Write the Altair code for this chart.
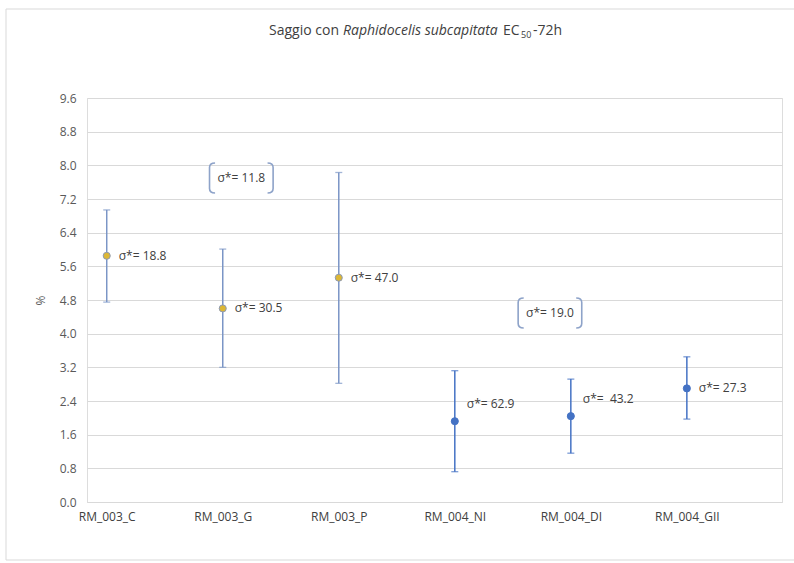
import altair as alt
import pandas as pd

# ---- data ----
categories = ["RM_003_C", "RM_003_G", "RM_003_P", "RM_004_NI", "RM_004_DI", "RM_004_GII"]
groups = ["RM_003", "RM_003", "RM_003", "RM_004", "RM_004", "RM_004"]
means = [5.85, 4.60, 5.33, 1.92, 2.04, 2.70]
lows = [4.75, 3.20, 2.82, 0.72, 1.16, 1.97]
highs = [6.94, 6.01, 7.83, 3.12, 2.92, 3.45]
sigma_labels = ["σ*= 18.8", "σ*= 30.5", "σ*= 47.0", "σ*= 62.9", "σ*=\u00a0 43.2", "σ*= 27.3"]

# group-level annotations (anchor in category-index / value units)
group_sigma = ["σ*= 11.8", "σ*= 19.0"]
group_sigma_x = [1.16, 3.82]
group_sigma_y = [7.70, 4.49]

y_ticks = [round(0.8 * i, 1) for i in range(13)]

df = pd.DataFrame({
    "idx": list(range(len(categories))),
    "cat": categories,
    "group": groups,
    "mean": means,
    "low": lows,
    "high": highs,
    "label": sigma_labels,
})
ann = pd.DataFrame({"text": group_sigma, "x": group_sigma_x, "y": group_sigma_y})

FONT = "Open Sans"
GRID = "#d9d9d9"
TXT = "#404040"

label_array = "[" + ",".join("'" + c + "'" for c in categories) + "]"

xscale = alt.Scale(domain=[-0.17, 5.82], nice=False, zero=False)
yscale = alt.Scale(domain=[0, 9.6], nice=False)

x_axis = alt.Axis(values=list(range(len(categories))),
                  labelExpr=label_array + "[datum.value]",
                  grid=False, ticks=False, domain=True, domainColor=GRID,
                  labelPadding=9, labelFontSize=12, labelColor=TXT,
                  labelFont=FONT, labelOverlap=False)
y_axis = alt.Axis(values=y_ticks, format=".1f", grid=True, gridColor=GRID,
                  domain=False, ticks=False, labelPadding=11, labelFontSize=12,
                  labelColor="#595959", labelFont=FONT, title="%",
                  titleFontWeight="normal", titleFontSize=12, titleColor="#595959",
                  titleFont=FONT, titlePadding=12, labelOverlap=False)


def X(field):
    return alt.X(field, scale=xscale, axis=x_axis, title=None)


def Y(field):
    return alt.Y(field, scale=yscale, axis=y_axis, title="%")


bar_colors = alt.Scale(domain=["RM_003", "RM_004"], range=["#7b95c6", "#4472c4"])
fill_colors = alt.Scale(domain=["RM_003", "RM_004"], range=["#dcb735", "#4472c4"])
stroke_colors = alt.Scale(domain=["RM_003", "RM_004"], range=["#8d9ab5", "#4472c4"])

base = alt.Chart(df)

rules = base.mark_rule(strokeWidth=1.5).encode(
    x=X("idx:Q"), y=Y("low:Q"), y2="high:Q",
    color=alt.Color("group:N", scale=bar_colors, legend=None),
)
caps_low = base.mark_tick(orient="horizontal", size=7, thickness=1.3).encode(
    x=X("idx:Q"), y=Y("low:Q"),
    color=alt.Color("group:N", scale=bar_colors, legend=None),
)
caps_high = base.mark_tick(orient="horizontal", size=7, thickness=1.3).encode(
    x=X("idx:Q"), y=Y("high:Q"),
    color=alt.Color("group:N", scale=bar_colors, legend=None),
)
points = base.mark_point(filled=True, shape="circle", size=50, strokeWidth=1, opacity=1).encode(
    x=X("idx:Q"), y=Y("mean:Q"),
    fill=alt.Fill("group:N", scale=fill_colors, legend=None),
    stroke=alt.Stroke("group:N", scale=stroke_colors, legend=None),
)
labels_a = base.transform_filter("datum.idx != 3 && datum.idx != 4").mark_text(
    align="left", baseline="middle", dx=12, font=FONT, fontSize=12, color=TXT
).encode(x=X("idx:Q"), y=Y("mean:Q"), text="label:N")
labels_b = base.transform_filter("datum.idx == 3 || datum.idx == 4").mark_text(
    align="left", baseline="middle", dx=12, dy=-17, font=FONT, fontSize=12, color=TXT
).encode(x=X("idx:Q"), y=Y("mean:Q"), text="label:N")

bracket_path = ("M -1.75 -1 Q -2.12 -1 -2.12 -0.7 L -2.12 0.7 Q -2.12 1 -1.75 1 "
                "M 1.75 -1 Q 2.12 -1 2.12 -0.7 L 2.12 0.7 Q 2.12 1 1.75 1")
ann_base = alt.Chart(ann)
brackets = ann_base.mark_point(shape=bracket_path, size=900, filled=False,
                               strokeWidth=1.6, color="#8ea3c9", opacity=1).encode(
    x=X("x:Q"), y=Y("y:Q"))
ann_text = ann_base.mark_text(align="center", baseline="middle", font=FONT,
                              fontSize=12, color=TXT).encode(
    x=X("x:Q"), y=Y("y:Q"), text="text:N")

# chart-area border and title (pixel decoration relative to plot origin at 87,98)
one = alt.Data(values=[{}])
border = alt.Chart(one).mark_rect(fill=None, stroke=GRID, strokeWidth=1).encode(
    x=alt.value(-81), x2=alt.value(720), y=alt.value(-89), y2=alt.value(462))

title_y = -63
TS = 14
t1 = alt.Chart(one).mark_text(align="right", baseline="alphabetic", font=FONT,
                              fontSize=TS, color=TXT).encode(
    x=alt.value(339 - 87), y=alt.value(title_y), text=alt.value("Saggio con"))
t2 = alt.Chart(one).mark_text(align="left", baseline="alphabetic", font=FONT,
                              fontSize=TS, fontStyle="italic", color=TXT).encode(
    x=alt.value(343 - 87), y=alt.value(title_y), text=alt.value("Raphidocelis subcapitata"))
t3 = alt.Chart(one).mark_text(align="left", baseline="alphabetic", font=FONT,
                              fontSize=TS, color=TXT).encode(
    x=alt.value(503 - 87), y=alt.value(title_y), text=alt.value("EC"))
t4 = alt.Chart(one).mark_text(align="left", baseline="alphabetic", font=FONT,
                              fontSize=9, color=TXT).encode(
    x=alt.value(521 - 87), y=alt.value(title_y + 3), text=alt.value("50"))
t5 = alt.Chart(one).mark_text(align="left", baseline="alphabetic", font=FONT,
                              fontSize=TS, color=TXT).encode(
    x=alt.value(533 - 87), y=alt.value(title_y), text=alt.value("-72h"))

chart = alt.layer(
    border, rules, caps_low, caps_high, points, labels_a, labels_b,
    brackets, ann_text, t1, t2, t3, t4, t5
).properties(
    width=695, height=404,
    autosize=alt.AutoSizeParams(type="none"),
    padding={"left": 87, "top": 98, "right": 12, "bottom": 61},
).configure_view(stroke=None).configure(background="white")

chart.save("out.html", embed_options={"renderer": "svg", "actions": False})
